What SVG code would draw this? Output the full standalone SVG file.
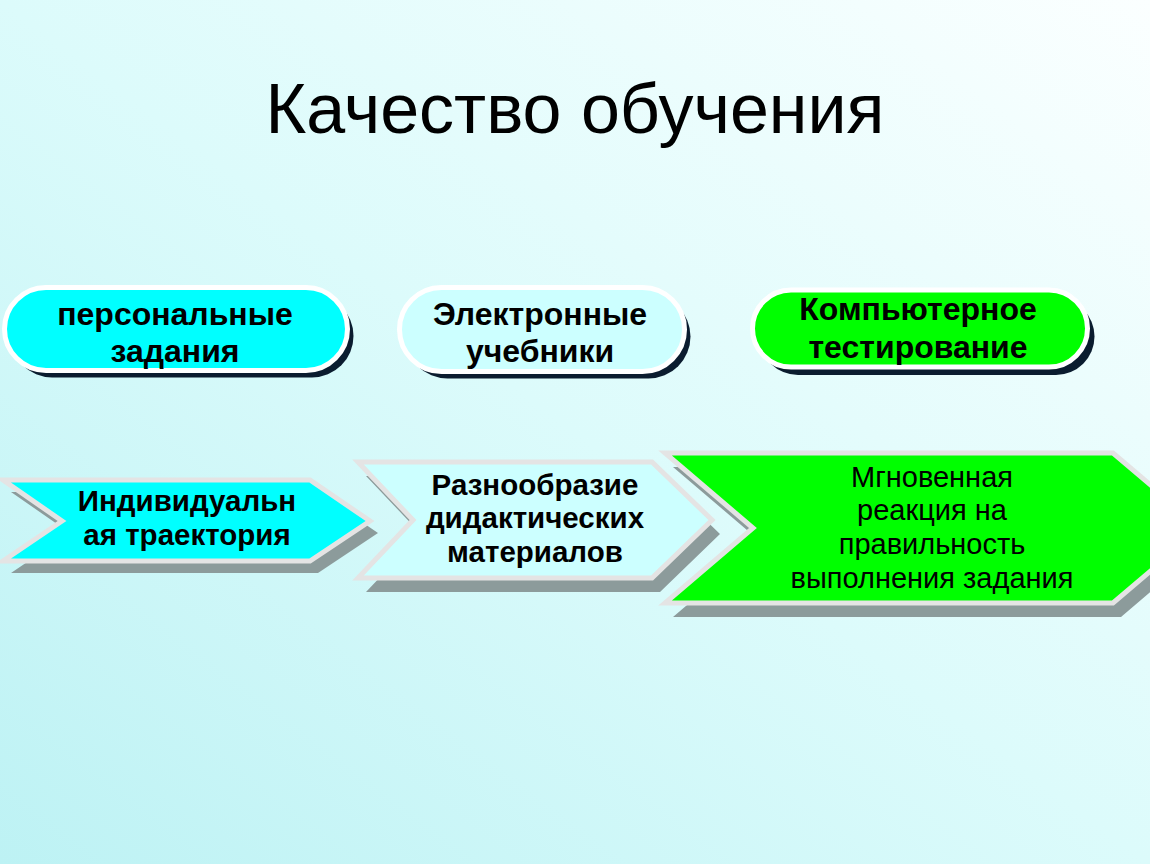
<svg xmlns="http://www.w3.org/2000/svg" width="1150" height="864" viewBox="0 0 1150 864">
<defs>
<linearGradient id="bg" x1="0" y1="1" x2="1" y2="0">
<stop offset="0" stop-color="#bdf2f4"/>
<stop offset="0.5" stop-color="#dcfbfb"/>
<stop offset="1" stop-color="#fbffff"/>
</linearGradient>
<style>
.pill{stroke:#ffffff;stroke-width:5}
.pshadow{fill:#0b1c2f}
.chev{stroke:#e4e4e4;stroke-width:5;stroke-linejoin:miter}
.cshadow{fill:#8c9b9b}
.tb{font-family:"Liberation Sans",Arial,sans-serif;font-weight:bold;font-size:32px;fill:#000;text-anchor:middle}
.tc{font-family:"Liberation Sans",Arial,sans-serif;font-weight:bold;font-size:29.5px;fill:#000;text-anchor:middle}
.tr{font-family:"Liberation Sans",Arial,sans-serif;font-size:29px;fill:#000;text-anchor:middle}
</style>
</defs>
<rect x="0" y="0" width="1150" height="864" fill="url(#bg)"/>
<text id="title" x="575" y="133" font-family="'Liberation Sans',Arial,sans-serif" font-size="70" text-anchor="middle" fill="#000">Качество обучения</text>

<g id="pill1">
<rect class="pshadow" x="10.5" y="294.5" width="343" height="83" rx="41.5"/>
<rect class="pill" x="4.5" y="287.5" width="343" height="83" rx="41.5" fill="#00ffff"/>
<text class="tb" x="175" y="325">персональные</text>
<text class="tb" x="175" y="362">задания</text>
</g>
<g id="pill2">
<rect class="pshadow" x="405.5" y="294.5" width="285" height="84" rx="42"/>
<rect class="pill" x="399.5" y="287.5" width="285" height="84" rx="42" fill="#ccffff"/>
<text class="tb" x="540" y="325">Электронные</text>
<text class="tb" x="540" y="362">учебники</text>
</g>
<g id="pill3">
<rect class="pshadow" x="759.5" y="298" width="335" height="77" rx="38.5"/>
<rect class="pill" x="752.5" y="290" width="335" height="77" rx="38.5" fill="#00ff00"/>
<text class="tb" x="918" y="320">Компьютерное</text>
<text class="tb" x="918" y="358">тестирование</text>
</g>

<g id="chevron1">
<polygon class="cshadow" points="11,492 318,492 378,533 318,573 11,573 70,533"/>
<polygon class="chev" points="3,480 310,480 370,521 310,561 3,561 62,521" fill="#00ffff"/>
<text class="tc" x="187" y="511">Индивидуальн</text>
<text class="tc" x="187" y="545">ая траектория</text>
</g>
<g id="chevron2">
<polygon class="cshadow" points="366,476 660,476 720,534 660,592 366,592 421,534"/>
<polygon class="chev" points="358,462 652,462 712,520 652,578 358,578 413,520" fill="#ccffff"/>
<text class="tc" x="535" y="495">Разнообразие</text>
<text class="tc" x="535" y="528">дидактических</text>
<text class="tc" x="535" y="562">материалов</text>
</g>
<g id="chevron3">
<polygon class="cshadow" points="673,467 1121,467 1209,542 1121,617 673,617 761,542"/>
<polygon class="chev" points="665,453 1113,453 1201,528 1113,603 665,603 753,528" fill="#00ff00"/>
<text class="tr" x="932" y="487">Мгновенная</text>
<text class="tr" x="932" y="520">реакция на</text>
<text class="tr" x="932" y="554">правильность</text>
<text class="tr" x="932" y="588">выполнения задания</text>
</g>
<g id="connectors"/>
</svg>
